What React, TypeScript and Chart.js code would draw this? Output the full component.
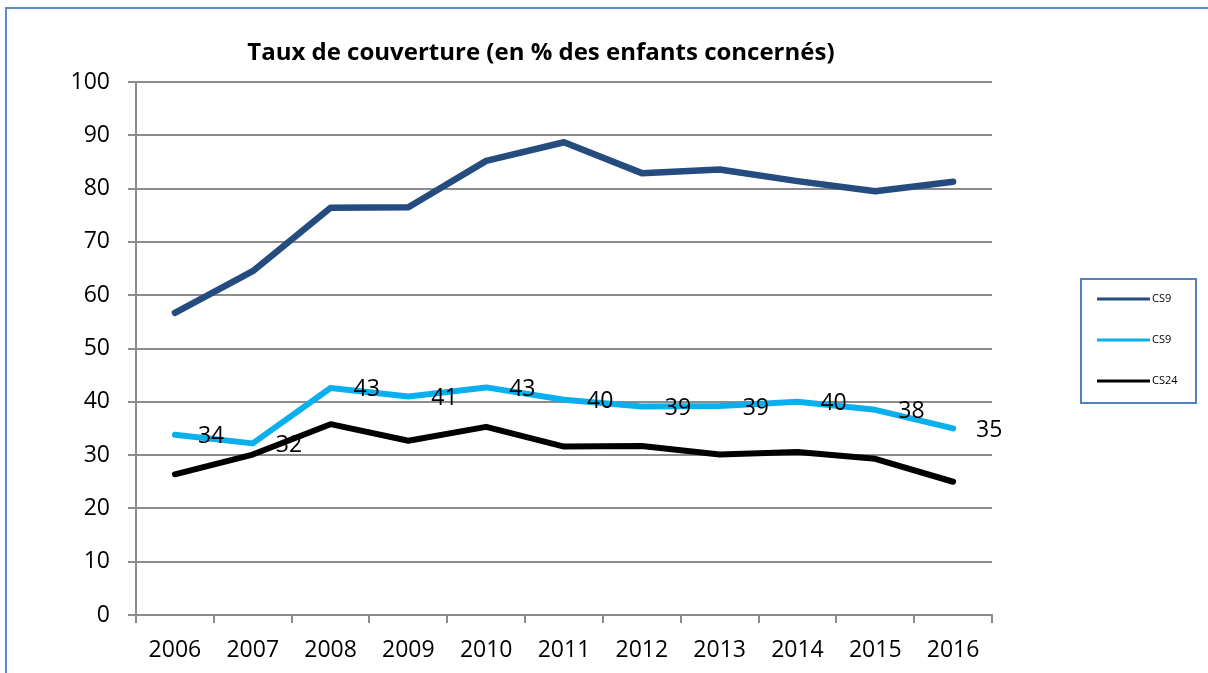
import React, { useEffect, useRef } from "react";
import { Chart, registerables } from "chart.js";

Chart.register(...registerables);

const TITLE = "Taux de couverture (en % des enfants concernés)";
const YEARS = ["2006", "2007", "2008", "2009", "2010", "2011", "2012", "2013", "2014", "2015", "2016"];
const SERIES_A_LABEL = "CS9";
const SERIES_A = [56.7, 64.5, 76.4, 76.5, 85.2, 88.7, 82.9, 83.6, 81.4, 79.5, 81.3];
const SERIES_B_LABEL = "CS9";
const SERIES_B = [33.8, 32.2, 42.6, 41.0, 42.7, 40.4, 39.1, 39.2, 40.0, 38.5, 35.0];
const SERIES_B_TEXT = ["34", "32", "43", "41", "43", "40", "39", "39", "40", "38", "35"];
const SERIES_C_LABEL = "CS24";
const SERIES_C = [26.4, 30.1, 35.8, 32.7, 35.3, 31.6, 31.7, 30.1, 30.6, 29.3, 25.0];
const Y_MIN = 0;
const Y_MAX = 100;
const Y_STEP = 10;

const FONT = "'Open Sans', 'Noto Sans', sans-serif";

const overlayPlugin = {
  id: "overlay",
  afterDatasetsDraw(chart: any) {
    const ctx = chart.ctx;
    const area = chart.chartArea;
    ctx.save();
    // data labels for series B (to the right of points)
    const meta = chart.getDatasetMeta(1);
    ctx.font = `23px ${FONT}`;
    ctx.fillStyle = "#000";
    ctx.textAlign = "left";
    ctx.textBaseline = "middle";
    meta.data.forEach((pt: any, i: number) => {
      ctx.fillText(SERIES_B_TEXT[i], pt.x + 23, pt.y + 2);
    });
    // title
    ctx.font = `bold 24px ${FONT}`;
    ctx.textAlign = "center";
    ctx.textBaseline = "middle";
    ctx.fillText(TITLE, area.left + area.width * 0.473, 53);
    // legend
    const bx = area.right + 89;
    const by = 279;
    const bw = 115;
    const bh = 124;
    ctx.strokeStyle = "#4f81bd";
    ctx.lineWidth = 2;
    ctx.strokeRect(bx, by, bw, bh);
    ctx.font = `11px ${FONT}`;
    ctx.textAlign = "left";
    chart.data.datasets.forEach((ds: any, i: number) => {
      const y = by + 20 + i * 41;
      ctx.strokeStyle = ds.borderColor;
      ctx.lineWidth = 3;
      ctx.beginPath();
      ctx.moveTo(bx + 16, y);
      ctx.lineTo(bx + 69, y);
      ctx.stroke();
      ctx.fillStyle = "#000";
      ctx.fillText(ds.label, bx + 71, y);
    });
    ctx.restore();
  },
};

export default function App() {
  const ref = useRef<HTMLCanvasElement | null>(null);
  useEffect(() => {
    if (!ref.current) return;
    const chart = new Chart(ref.current, {
      type: "line",
      data: {
        labels: YEARS,
        datasets: [
          { label: SERIES_A_LABEL, data: SERIES_A, borderColor: "#254c7e", borderWidth: 6.5, pointRadius: 0, tension: 0, borderCapStyle: "round", borderJoinStyle: "round" },
          { label: SERIES_B_LABEL, data: SERIES_B, borderColor: "#0ab0ee", borderWidth: 6, pointRadius: 0, tension: 0, borderCapStyle: "round", borderJoinStyle: "round" },
          { label: SERIES_C_LABEL, data: SERIES_C, borderColor: "#000000", borderWidth: 6, pointRadius: 0, tension: 0, borderCapStyle: "round", borderJoinStyle: "round" },
        ],
      },
      options: {
        animation: false,
        responsive: false,
        maintainAspectRatio: false,
        layout: { padding: { left: 0, top: 82, right: 216, bottom: 0 } },
        plugins: { legend: { display: false }, title: { display: false }, tooltip: { enabled: false } },
        scales: {
          x: {
            type: "category",
            offset: true,
            grid: { offset: true, drawOnChartArea: false, drawTicks: true, tickLength: 8, color: "#8c8c8c", lineWidth: 2 },
            border: { display: true, color: "#8c8c8c", width: 2 },
            ticks: { color: "#000", font: { family: FONT, size: 23 }, padding: 14, maxRotation: 0, autoSkip: false },
            afterFit: (s: any) => { s.height = 58; },
          },
          y: {
            min: Y_MIN,
            max: Y_MAX,
            ticks: { stepSize: Y_STEP, color: "#000", font: { family: FONT, size: 23 }, padding: 18 },
            grid: { color: "#8c8c8c", lineWidth: 2, tickLength: 8, drawTicks: true },
            border: { display: true, color: "#8c8c8c", width: 2 },
            afterFit: (s: any) => { s.width = 136; },
          },
        },
      },
      plugins: [overlayPlugin],
    });
    return () => chart.destroy();
  }, []);
  return (
    <div style={{ position: "fixed", left: 0, top: 0, width: 1208, height: 673, background: "#fff", overflow: "hidden" }}>
      <div style={{ position: "absolute", left: 5, top: 7, width: 1300, height: 800, borderLeft: "2px solid #5b8bc9", borderTop: "2px solid #5b8bc9" }} />
      <canvas ref={ref} width={1208} height={673} style={{ position: "absolute", left: 0, top: 0, width: 1208, height: 673 }} />
    </div>
  );
}
